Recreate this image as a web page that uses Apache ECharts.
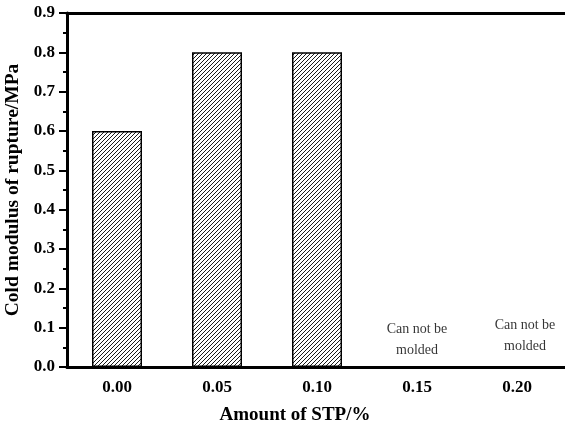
<!DOCTYPE html>
<html><head><meta charset="utf-8">
<script src="https://cdn.jsdelivr.net/npm/echarts@6/dist/echarts.min.js"></script>
<style>html,body{margin:0;padding:0;background:#fff}#c{width:565px;height:424px}</style>
</head><body><div id="c"></div>
<script>
const categories = ['0.00', '0.05', '0.10', '0.15', '0.20'];
const values = [0.6, 0.8, 0.8, null, null];
const yMin = 0, yMax = 0.9, yStep = 0.1;
const noteCategories = ['0.15', '0.20'];
const noteValues = [0.068, 0.078];
const noteText = 'Can not be\nmolded';
const xTitle = 'Amount of STP/%';
const yTitle = 'Cold modulus of rupture/MPa';

const FONT = 'Liberation Serif';

// hatch pattern "/"
const pc = document.createElement('canvas');
pc.width = 4; pc.height = 4;
const g = pc.getContext('2d');
g.fillStyle = '#fff'; g.fillRect(0, 0, 4, 4);
g.strokeStyle = '#000'; g.lineWidth = 0.9;
g.beginPath();
g.moveTo(-1, 5); g.lineTo(5, -1);
g.moveTo(-1, 1); g.lineTo(1, -1);
g.moveTo(3, 5); g.lineTo(5, 3);
g.stroke();

const chart = echarts.init(document.getElementById('c'), null, {renderer: 'canvas'});
const noteOffsets = [[0, 0], [8, 0]];
chart.setOption({
  animation: false,
  backgroundColor: '#fff',
  grid: {left: 67, top: 13, width: 500, height: 354, containLabel: false, outerBoundsMode: 'none'},
  xAxis: [
    {
      type: 'category', data: categories, position: 'bottom', offset: 0,
      axisLine: {lineStyle: {color: '#000', width: 3}},
      axisTick: {alignWithLabel: true, length: 7, lineStyle: {color: '#000', width: 2}},
      axisLabel: {color: '#000', fontFamily: FONT, fontWeight: 'bold', fontSize: 17, margin: 12},
      name: xTitle, nameLocation: 'middle', nameGap: 39,
      nameTextStyle: {color: '#000', fontFamily: FONT, fontWeight: 'bold', fontSize: 19,
        padding: [0, 44, 0, 0]}
    },
    {
      type: 'category', data: categories, position: 'bottom', offset: 0,
      axisLine: {show: false},
      axisTick: {length: 4, lineStyle: {color: '#000', width: 2}},
      axisLabel: {show: false}
    },
    {
      type: 'category', data: categories, position: 'top', offset: 0,
      axisLine: {lineStyle: {color: '#000', width: 3}},
      axisTick: {inside: true, length: 3, interval: 0, lineStyle: {color: '#000', width: 1}},
      axisLabel: {show: false}
    }
  ],
  yAxis: [{
    type: 'value', min: yMin, max: yMax, interval: yStep,
    axisLine: {show: true, lineStyle: {color: '#000', width: 3}},
    axisTick: {show: true, length: 8, lineStyle: {color: '#000', width: 2}},
    minorTick: {show: true, splitNumber: 2, length: 4, lineStyle: {color: '#000', width: 2}},
    splitLine: {show: false},
    axisLabel: {color: '#000', fontFamily: FONT, fontWeight: 'bold', fontSize: 17, margin: 12,
      formatter: v => v.toFixed(1)},
    name: yTitle, nameLocation: 'middle', nameGap: 39, nameRotate: 90,
    nameTextStyle: {color: '#000', fontFamily: FONT, fontWeight: 'bold', fontSize: 19.5}
  }],
  series: [
    {
      type: 'bar', xAxisIndex: 0, data: values, barWidth: '50%',
      itemStyle: {color: {image: pc, repeat: 'repeat'}, borderColor: '#000', borderWidth: 1.5}
    },
    {
      type: 'scatter', xAxisIndex: 0, symbolSize: 0,
      data: noteCategories.map((c, i) => ({
        value: [c, noteValues[i]],
        label: {offset: noteOffsets[i]}
      })),
      label: {show: true, position: 'inside', formatter: noteText, color: '#000',
        fontFamily: FONT, fontSize: 14, lineHeight: 21, align: 'center'}
    }
  ]
});
</script></body></html>
